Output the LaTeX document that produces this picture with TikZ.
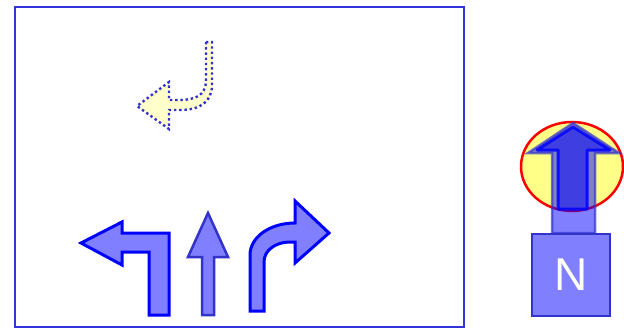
\documentclass[tikz,border=0pt]{standalone}
\usepackage{fontspec}
\setmainfont{Liberation Sans}
\definecolor{frameblue}{RGB}{51,51,221}
\definecolor{navy}{RGB}{51,51,204}
\definecolor{lightyel}{RGB}{255,255,204}
\definecolor{ellyel}{RGB}{255,255,136}
\begin{document}
\begin{tikzpicture}[x=1pt,y=-1pt,
  turnarrow/.style={fill=blue,fill opacity=0.5,draw=blue,draw opacity=1,line width=3pt,line join=miter},
  thinarrow/.style={fill=blue,fill opacity=0.5,draw=navy,draw opacity=1,line width=2.5pt,line join=miter},
  dotarrow/.style={fill=lightyel,draw=navy,line width=2.4pt,dash pattern=on 2.4pt off 2.8pt},
  nbox/.style={draw=navy,fill=blue!50,line width=2.5pt,minimum width=78pt,minimum height=82pt,inner sep=0pt,text=white,font=\fontsize{46}{46}\selectfont}]
\useasboundingbox (0,0) rectangle (624,329);
% frame
\draw[frameblue,line width=2.5pt] (15,7) rectangle (464,327);
% dotted u-turn arrow
\draw[dotarrow] (206,42) -- (206,80) .. controls (206,96) and (195,100) .. (178,100) -- (169,100) -- (169,82) -- (137,106) -- (169,129) -- (169,110) -- (180,110) .. controls (200,110) and (212,102) .. (212,85) -- (212,42) -- cycle;
% left turn
\draw[turnarrow] (81,243) -- (122,222) -- (122,233) -- (169,233) -- (169,315) -- (149,315) -- (149,252) -- (122,252) -- (122,265) -- cycle;
% straight
\draw[thinarrow] (208,213) -- (228,257) -- (214,257) -- (214,315) -- (202,315) -- (202,257) -- (188,257) -- cycle;
% right turn
\draw[turnarrow] (250,311) -- (250,255) .. controls (250,237) and (270,223) .. (295,223) -- (295,201) -- (329,233) -- (295,263) -- (295,242) -- (290,242) .. controls (276,242) and (264,250) .. (264,262) -- (264,311) -- cycle;
% compass
\draw[red,fill=ellyel,line width=2.5pt] (572,166.5) ellipse [x radius=51,y radius=44.5];
\draw[fill=blue,fill opacity=0.5,draw=navy,draw opacity=0.7,line width=2.5pt] (573,123) -- (619,153) -- (595,153) -- (595,233) -- (552,233) -- (552,153) -- (528,153) -- cycle;
\draw[fill=blue,fill opacity=0.5,draw=blue,draw opacity=0.85,line width=3pt,line join=round] (573,127) -- (610,150) -- (587,150) -- (587,209) -- (558,209) -- (558,150) -- (537,150) -- cycle;
\node[nbox] (n) at (571,275) {\raisebox{-6pt}{N}};
\end{tikzpicture}
\end{document}
